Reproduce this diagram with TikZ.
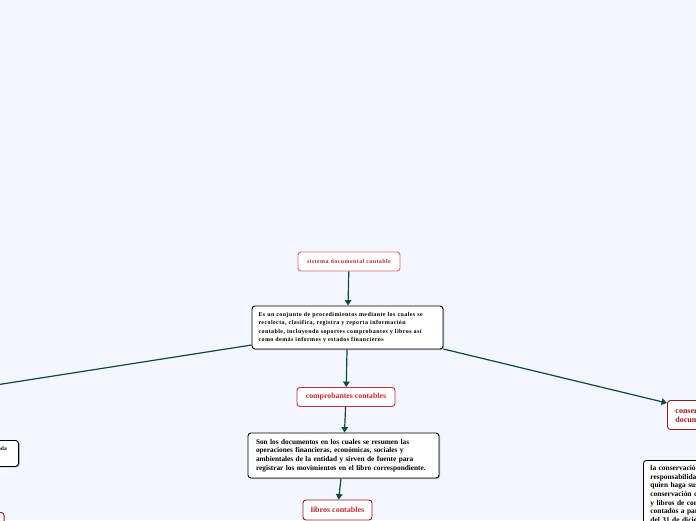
\documentclass[tikz,border=0pt]{standalone}
\usepackage{fontspec}
\setmainfont{Liberation Serif}
\newfontfamily\widefont[LetterSpace=7]{Liberation Serif}
\usetikzlibrary{arrows.meta,shadows}
\definecolor{bg}{HTML}{F3F6FE}
\definecolor{conn}{HTML}{0D4A3B}
\definecolor{redtxt}{HTML}{BE2A30}
\definecolor{lightred}{HTML}{D86A70}
\definecolor{midred}{HTML}{B8323A}
\definecolor{darkred}{HTML}{8E1B1B}
\tikzset{
  conline/.style={draw=conn, line width=1.2pt, -{Triangle[width=6.5pt,length=5.5pt]}},
  plainline/.style={draw=conn, line width=1.2pt},
  topicbox/.style={draw=#1, line width=0.9pt, fill=white, rounded corners=3pt, font=\bfseries, text=redtxt, inner sep=0pt, align=center},
  textbox/.style={draw=black, line width=0.9pt, fill=white, rounded corners=3pt, font=\bfseries, inner xsep=8pt, inner ysep=0pt, align=left,
     drop shadow={shadow xshift=1pt, shadow yshift=-1pt, fill=gray!70, opacity=0.8}},
}
\begin{document}
\begin{tikzpicture}[x=1pt,y=-1pt]
\fill[bg] (0,0) rectangle (696,520);
\useasboundingbox (0,0) rectangle (696,520);
\clip (0,0) rectangle (696,520);

% nodes
\node[topicbox=lightred, minimum width=102pt, minimum height=19pt, font=\widefont\bfseries\fontsize{6}{7}\selectfont] (sis) at (349,261.5) {sistema documental contable};

\node[textbox, text width=178pt, minimum height=43pt, inner xsep=6.5pt, font=\widefont\bfseries\fontsize{6}{8.5}\selectfont] (main) at (347.5,327.5)
{Es un conjunto de procedimientos mediante los cuales se\\
recolecta, clasifica, registra y reporta información\\
contable, incluyendo soportes comprobantes y libros así\\
como demás informes y estados financieros};

\node[topicbox=midred, minimum width=98pt, minimum height=19pt, font=\bfseries\fontsize{7.8}{8}\selectfont] (comp) at (346,397) {comprobantes contables};

\node[textbox, text width=175pt, minimum height=45pt, font=\bfseries\fontsize{7.3}{8.8}\selectfont] (desc) at (343.5,455.5)
{Son los documentos en los cuales se resumen las\\
operaciones financieras, económicas, sociales y\\
ambientales de la entidad y sirven de fuente para\\
registrar los movimientos en el libro correspondiente.};

\node[topicbox=darkred, minimum width=69pt, minimum height=20pt, font=\bfseries\fontsize{8}{8}\selectfont] (lib) at (337.5,510) {libros contables};

\node[topicbox=darkred, text=darkred, anchor=north west, minimum height=29pt, inner xsep=8pt, align=left, font=\bfseries\fontsize{8}{9}\selectfont] (cons) at (667,400) {conservación de\\documentos};

\node[textbox, anchor=north west, text width=185pt, inner xsep=7pt, inner ysep=5pt, font=\bfseries\fontsize{7.4}{8.6}\selectfont] (rdesc) at (643,460)
{la conservación de los documentos es\\
responsabilidad del representante legal o\\
quien haga sus veces; el tiempo de\\
conservación de los soportes, comprobantes\\
y libros de contabilidad es de diez años\\
contados a partir\\
del 31 de diciembre del año};

\node[textbox, anchor=north east, text width=175pt, minimum height=26pt, font=\bfseries\fontsize{5.5}{8.5}\selectfont] (lbox) at (19,440)
{los libros deben conservarse en orden cronológico y en forma ordenada\\
para su consulta};

\node[topicbox=darkred, anchor=north east, minimum width=80pt, minimum height=20pt, font=\bfseries\fontsize{7}{8}\selectfont] (lred) at (4.5,512) {soportes};

\coordinate (leftend) at (-100,400);

% connectors
\draw[conline] (sis) -- (main);
\draw[conline] (main) -- (comp);
\draw[conline] (comp) -- (desc);
\draw[conline] (desc) -- (lib);
\draw[conline] (main.east |- 0,349) -- (cons.west |- 0,403);
\draw[plainline] (main.west |- 0,345) -- (leftend);
\end{tikzpicture}
\end{document}
